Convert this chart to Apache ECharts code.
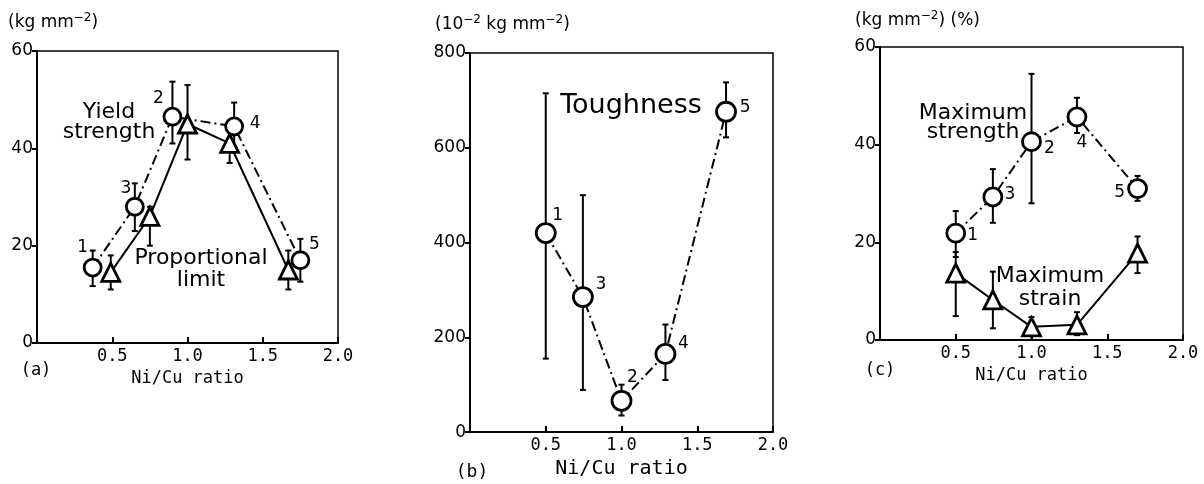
<!DOCTYPE html>
<html><head><meta charset="utf-8">
<script src="https://cdn.jsdelivr.net/npm/echarts@6/dist/echarts.min.js"></script>
<style>html,body{margin:0;padding:0;background:#fff}#c{width:1204px;height:484px}</style>
</head><body><div id="c"></div>
<script>
// ---------- data ----------
// Panel (a): yield strength (circles) and proportional limit (triangles), kg mm^-2
const yieldX = [0.37, 0.65, 0.90, 1.31, 1.75];
const yieldY = [15.5, 28, 46.5, 44.5, 17];
const yieldLo = [11.7, 23, 41, 40, 12.6];
const yieldHi = [19, 32.8, 53.7, 49.4, 21.4];
const yieldLabels = ['1', '3', '2', '4', '5'];
const propX = [0.49, 0.75, 1.0, 1.28, 1.67];
const propY = [14.5, 26, 45, 41, 15];
const propLo = [11, 20, 37.7, 37, 11];
const propHi = [18, 28, 53, 44, 19];
// Panel (b): toughness, 10^-2 kg mm^-2
const toughX = [0.5, 0.745, 1.0, 1.29, 1.69];
const toughY = [420, 285, 66, 165, 676];
const toughLo = [155, 89, 35, 110, 622];
const toughHi = [715, 500, 100, 227, 738];
const toughLabels = ['1', '3', '2', '4', '5'];
// Panel (c): maximum strength (circles, kg mm^-2) and maximum strain (triangles, %)
const strengthX = [0.5, 0.745, 1.0, 1.3, 1.7];
const strengthY = [21.9, 29.3, 40.6, 45.7, 31];
const strengthLo = [17, 24, 28, 42.4, 28.5];
const strengthHi = [26.4, 35, 54.5, 49.6, 33.6];
const strengthLabels = ['1', '3', '2', '4', '5'];
const strainX = [0.5, 0.745, 1.0, 1.3, 1.7];
const strainY = [13.7, 8.2, 2.7, 3.1, 17.8];
const strainLo = [4.9, 2.4, 0, 1, 13.7];
const strainHi = [18, 14, 4.7, 5.7, 21.2];
// axes
const xTicks = [0, 0.5, 1.0, 1.5, 2.0];
const xTickLabels = ['', '0.5', '1.0', '1.5', '2.0'];
const yTicksA = [0, 20, 40, 60];
const yTicksB = [0, 200, 400, 600, 800];
const yTicksC = [0, 20, 40, 60];

// ---------- label offsets (style) ----------
const offYield = [[-10, -20], [-9, -18], [-14, -18], [21, -3], [14, -16]];
const offTough = [[12, -17], [18, -12], [11, -23], [18, -10], [19, -4]];
const offStrength = [[17, 3], [17, -2], [18, 7], [5, 26], [-18, 4]];

const BLACK = '#000';
const DASHDOT = [10, 4, 2, 4];

function errSeries(ax, xs, lo, hi) {
  return {
    type: 'custom', xAxisIndex: ax, yAxisIndex: ax, z: 1, clip: false,
    encode: { x: 0, y: [1, 2] },
    data: xs.map((x, i) => [x, lo[i], hi[i]]),
    renderItem(params, api) {
      const x = api.value(0);
      const p1 = api.coord([x, api.value(1)]);
      const p2 = api.coord([x, api.value(2)]);
      const w = 3;
      const st = { stroke: BLACK, lineWidth: 2 };
      return { type: 'group', children: [
        { type: 'line', shape: { x1: p1[0], y1: p1[1], x2: p2[0], y2: p2[1] }, style: st },
        { type: 'line', shape: { x1: p1[0] - w, y1: p1[1], x2: p1[0] + w, y2: p1[1] }, style: st },
        { type: 'line', shape: { x1: p2[0] - w, y1: p2[1], x2: p2[0] + w, y2: p2[1] }, style: st }
      ]};
    }
  };
}

function lineSeries(ax, xs, ys, symbol, dash, labels, offs, size) {
  return {
    type: 'line', xAxisIndex: ax, yAxisIndex: ax, z: 3,
    symbol: symbol, symbolSize: size,
    showAllSymbol: true,
    lineStyle: { color: BLACK, width: 2, type: dash },
    itemStyle: { color: '#fff', borderColor: BLACK, borderWidth: 2.8 },
    emphasis: { disabled: true },
    data: xs.map((x, i) => {
      const d = { value: [x, ys[i]] };
      if (labels) {
        d.label = { show: true, position: 'inside', formatter: labels[i], offset: offs[i],
          color: BLACK, fontFamily: 'DejaVu Sans', fontSize: 17 };
      }
      return d;
    })
  };
}

function xAxis(g, fs, gap) {
  return {
    type: 'value', gridIndex: g, min: xTicks[0], max: xTicks[xTicks.length - 1],
    interval: xTicks[1] - xTicks[0],
    axisLine: { show: true, onZero: false, lineStyle: { color: BLACK, width: 2 } },
    axisTick: { show: true, inside: true, length: 6, lineStyle: { color: BLACK, width: 2 } },
    axisLabel: { color: BLACK, fontFamily: 'DejaVu Sans Mono', fontSize: 17, margin: 5,
      formatter: v => xTickLabels[xTicks.findIndex(t => Math.abs(t - v) < 1e-9)] || '' },
    splitLine: { show: false },
    name: 'Ni/Cu ratio', nameLocation: 'middle', nameGap: gap,
    nameTextStyle: { color: BLACK, fontFamily: 'DejaVu Sans Mono', fontSize: fs, verticalAlign: 'top' }
  };
}
function yAxis(g, ticks) {
  return {
    type: 'value', gridIndex: g, min: ticks[0], max: ticks[ticks.length - 1],
    interval: ticks[1] - ticks[0],
    axisLine: { show: true, onZero: false, lineStyle: { color: BLACK, width: 2 } },
    axisTick: { show: true, inside: false, length: 5, lineStyle: { color: BLACK, width: 2 } },
    axisLabel: { color: BLACK, fontFamily: 'DejaVu Sans', fontSize: 17, margin: 4 },
    splitLine: { show: false }
  };
}

const txt = (x, y, text, fs, extra) => ({
  type: 'text', x: x, y: y, silent: true,
  style: Object.assign({ text: text, fill: BLACK, font: fs + 'px "DejaVu Sans"', align: 'center', verticalAlign: 'middle' }, extra || {})
});
const unit = (x, y, text) => ({
  type: 'text', x: x, y: y, silent: true,
  style: { text: text, fill: BLACK, fontFamily: 'DejaVu Sans', fontSize: 17, align: 'left', verticalAlign: 'bottom',
    rich: { s: { fontSize: 12, fontFamily: 'DejaVu Sans', verticalAlign: 'top', padding: [0, 0, 9, 0] },
            n: { fontSize: 17, fontFamily: 'DejaVu Sans' } } }
});

const chart = echarts.init(document.getElementById('c'), null, { renderer: 'canvas' });
chart.setOption({
  animation: false,
  backgroundColor: '#fff',
  grid: [
    { left: 37, top: 51, width: 301, height: 292, show: true, borderColor: BLACK, borderWidth: 1.5 },
    { left: 470, top: 53, width: 303, height: 387, show: true, borderColor: BLACK, borderWidth: 1.5 },
    { left: 880, top: 47, width: 303, height: 293, show: true, borderColor: BLACK, borderWidth: 1.5 }
  ],
  xAxis: [xAxis(0, 17, 17), xAxis(1, 20, 23), xAxis(2, 17, 22)],
  yAxis: [yAxis(0, yTicksA), yAxis(1, yTicksB), yAxis(2, yTicksC)],
  series: [
    errSeries(0, yieldX, yieldLo, yieldHi),
    errSeries(0, propX, propLo, propHi),
    lineSeries(0, propX, propY, 'triangle', 'solid', null, null, 18),
    lineSeries(0, yieldX, yieldY, 'circle', DASHDOT, yieldLabels, offYield, 17),
    errSeries(1, toughX, toughLo, toughHi),
    lineSeries(1, toughX, toughY, 'circle', DASHDOT, toughLabels, offTough, 19),
    errSeries(2, strengthX, strengthLo, strengthHi),
    errSeries(2, strainX, strainLo, strainHi),
    lineSeries(2, strainX, strainY, 'triangle', 'solid', null, null, 18),
    lineSeries(2, strengthX, strengthY, 'circle', DASHDOT, strengthLabels, offStrength, 18)
  ],
  graphic: [
    txt(109, 122, 'Yield\nstrength', 22, { lineHeight: 20 }),
    txt(201, 269, 'Proportional\nlimit', 22, { lineHeight: 22 }),
    txt(631, 106, 'Toughness', 27),
    txt(973, 123, 'Maximum\nstrength', 22, { lineHeight: 19 }),
    txt(1050, 288, 'Maximum\nstrain', 22, { lineHeight: 23 }),
    txt(36, 371, '(a)', 17, { font: '17px "DejaVu Sans Mono"' }),
    txt(472, 472, '(b)', 18, { font: '18px "DejaVu Sans Mono"' }),
    txt(880, 371, '(c)', 17, { font: '17px "DejaVu Sans Mono"' }),
    unit(8, 33, '{n|(kg mm}{s|−2}{n|)}'),
    unit(435, 35, '{n|(10}{s|−2}{n| kg mm}{s|−2}{n|)}'),
    unit(855, 31, '{n|(kg mm}{s|−2}{n|) (%)}')
  ]
});
</script></body></html>
